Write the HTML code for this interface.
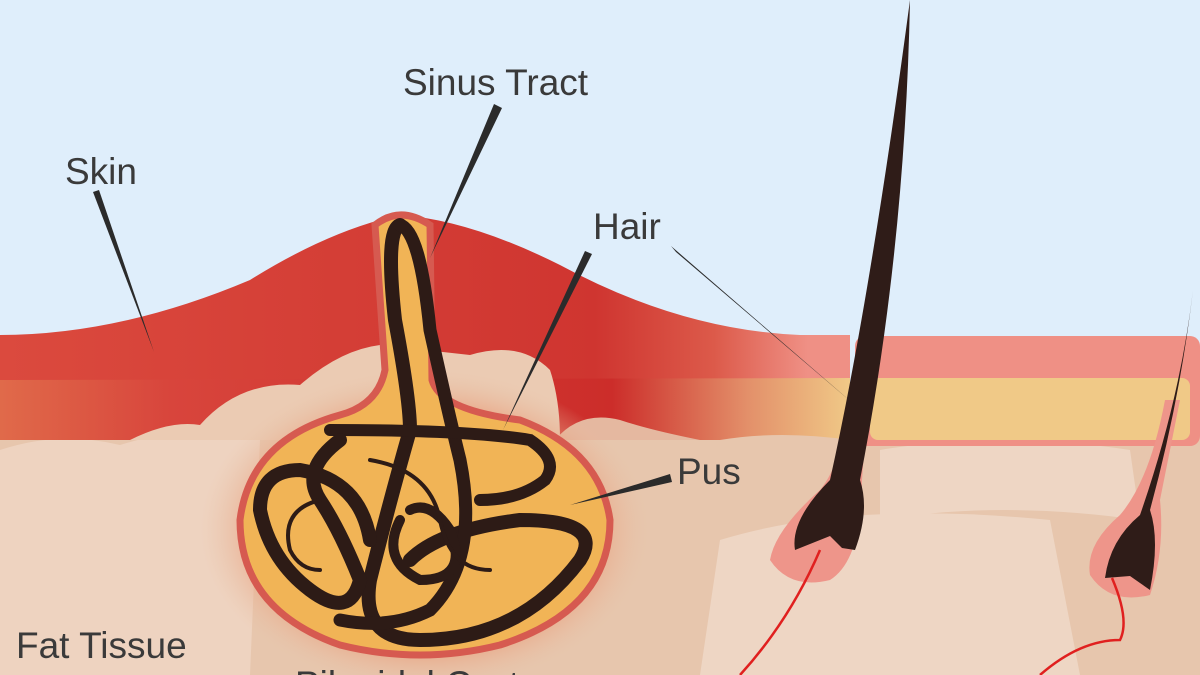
<!DOCTYPE html>
<html><head><meta charset="utf-8"><style>
html,body{margin:0;padding:0;width:1200px;height:675px;overflow:hidden;background:#dfeefb}
svg{display:block}
text{font-family:"Liberation Sans",sans-serif;fill:#3a3a3a;font-size:37px}
</style></head><body>
<svg width="1200" height="675" viewBox="0 0 1200 675">
<defs>
<linearGradient id="red" gradientUnits="userSpaceOnUse" x1="0" x2="850" y1="0" y2="0">
<stop offset="0" stop-color="#db4a3e"/><stop offset="0.7" stop-color="#cf3530"/><stop offset="0.84" stop-color="#dc5a4a"/><stop offset="0.95" stop-color="#ef9085"/><stop offset="1" stop-color="#ef9085"/></linearGradient>
<linearGradient id="red2" gradientUnits="userSpaceOnUse" x1="0" x2="850" y1="0" y2="0">
<stop offset="0" stop-color="#e06a4a"/><stop offset="0.2" stop-color="#d8453c"/><stop offset="0.72" stop-color="#cc2d2a"/><stop offset="0.88" stop-color="#e3906a"/><stop offset="1" stop-color="#f0c987"/></linearGradient>
<radialGradient id="glow" cx="0.5" cy="0.5" r="0.5"><stop offset="0.65" stop-color="#ea8a64"/><stop offset="1" stop-color="#e8c2a6" stop-opacity="0"/></radialGradient>
</defs>
<rect width="1200" height="675" fill="#dfeefb"/>
<!-- fat base -->
<rect x="0" y="400" width="1200" height="275" fill="#e7c6ad"/>
<path d="M0 450 Q60 430 120 445 Q200 420 260 440 L250 675 L0 675Z" fill="#eed3c0"/>
<path d="M880 450 Q1000 430 1130 450 L1140 520 Q1000 500 880 520Z" fill="#eed6c4"/>
<path d="M720 540 Q850 500 1050 520 L1080 675 L700 675Z" fill="#eed6c4"/>
<!-- right bands -->
<rect x="855" y="336" width="345" height="110" rx="10" fill="#ef9085"/>
<rect x="870" y="378" width="320" height="62" rx="8" fill="#f0c987"/>
<!-- left skin lower band -->
<path d="M0 375 L850 375 L850 440 Q780 430 720 440 L0 440Z" fill="url(#red2)"/>
<!-- red skin -->
<path d="M0 335 Q120 335 250 280 Q330 230 400 215 Q470 220 560 265 Q680 330 800 335 L850 335 L850 378 L0 380Z" fill="url(#red)"/>
<!-- beige bumps under red -->
<path d="M130 440 Q170 420 200 425 Q240 380 300 385 Q340 350 380 345 L470 355 Q520 340 550 370 Q560 400 560 440Z" fill="#ebcbb3"/>
<path d="M555 440 Q580 410 620 420 Q650 430 700 440Z" fill="#e5b8a0"/>
<!-- cyst glow -->
<ellipse cx="425" cy="530" rx="225" ry="160" fill="url(#glow)"/>
<!-- cyst -->
<path d="M375 225 Q400 205 430 225 L432 380 Q440 410 520 420 Q600 450 610 520 Q610 610 500 645 Q420 665 340 645 Q240 610 240 520 Q250 440 340 415 Q378 405 385 370Z" fill="#f1b456" stroke="#d65a50" stroke-width="7"/>
<!-- cyst hair -->
<g fill="none" stroke="#2d1b16" stroke-linecap="round">
<path d="M400 225 Q385 230 395 320 Q410 400 410 430 Q390 500 370 580 Q360 640 420 640 Q520 640 580 560 Q605 520 520 520 Q440 530 410 560" stroke-width="14"/>
<path d="M400 225 Q420 230 430 330 Q450 420 460 460 Q480 560 430 610 Q390 630 340 620" stroke-width="13"/>
<path d="M330 430 Q470 430 530 440 Q560 460 545 480 Q520 500 480 500" stroke-width="12"/>
<path d="M340 440 Q300 470 320 500 Q340 530 360 580 Q350 620 310 590 Q270 560 260 510 Q260 470 300 470 Q360 480 370 540" stroke-width="14"/>
<path d="M400 520 Q380 560 420 580 Q470 580 450 530 Q430 500 410 510" stroke-width="10"/>
<path d="M370 460 Q430 470 440 520 Q450 570 490 570" stroke-width="4"/>
<path d="M320 500 Q280 510 290 550 Q300 570 320 570" stroke-width="4"/>
</g>
<!-- right hairs -->
<path d="M852 380 Q845 460 820 490 Q775 530 770 560 Q790 590 830 580 Q862 560 862 480 Q866 420 875 380Z" fill="#ee958a"/>
<path d="M910 0 Q905 250 860 480 Q870 510 855 550 L842 548 L830 536 L795 550 Q790 520 830 480 Q870 300 910 0Z" fill="#2f1c18"/>
<path d="M1165 400 Q1150 480 1120 515 Q1085 545 1090 575 Q1110 605 1150 595 Q1165 550 1160 500 Q1170 450 1180 400Z" fill="#ee958a"/>
<path d="M1193 290 Q1180 400 1150 510 Q1160 540 1150 590 L1140 583 L1130 576 L1105 578 Q1110 540 1140 515 Q1180 400 1193 290Z" fill="#2f1c18"/>
<path d="M820 550 Q790 620 740 675" stroke="#e0201f" stroke-width="2.5" fill="none"/>
<path d="M1112 578 Q1130 620 1120 640 Q1080 640 1040 675" stroke="#e0201f" stroke-width="2.5" fill="none"/>
<!-- pointers -->
<polygon points="93,192 99,190 154,352" fill="#2b2b2b"/>
<polygon points="494,104 502,108 430,258" fill="#2b2b2b"/>
<polygon points="585,251 592,254 503,430" fill="#2b2b2b"/>
<polygon points="671,246 676,252 856,406" fill="#2b2b2b"/>
<polygon points="670,474 672,482 570,505" fill="#2b2b2b"/>
<!-- labels -->
<text x="403" y="95">Sinus Tract</text>
<text x="65" y="184">Skin</text>
<text x="593" y="239">Hair</text>
<text x="677" y="484">Pus</text>
<text x="16" y="658">Fat Tissue</text>
<text x="295" y="697">Pilonidal Cyst</text>
</svg>
</body></html>
